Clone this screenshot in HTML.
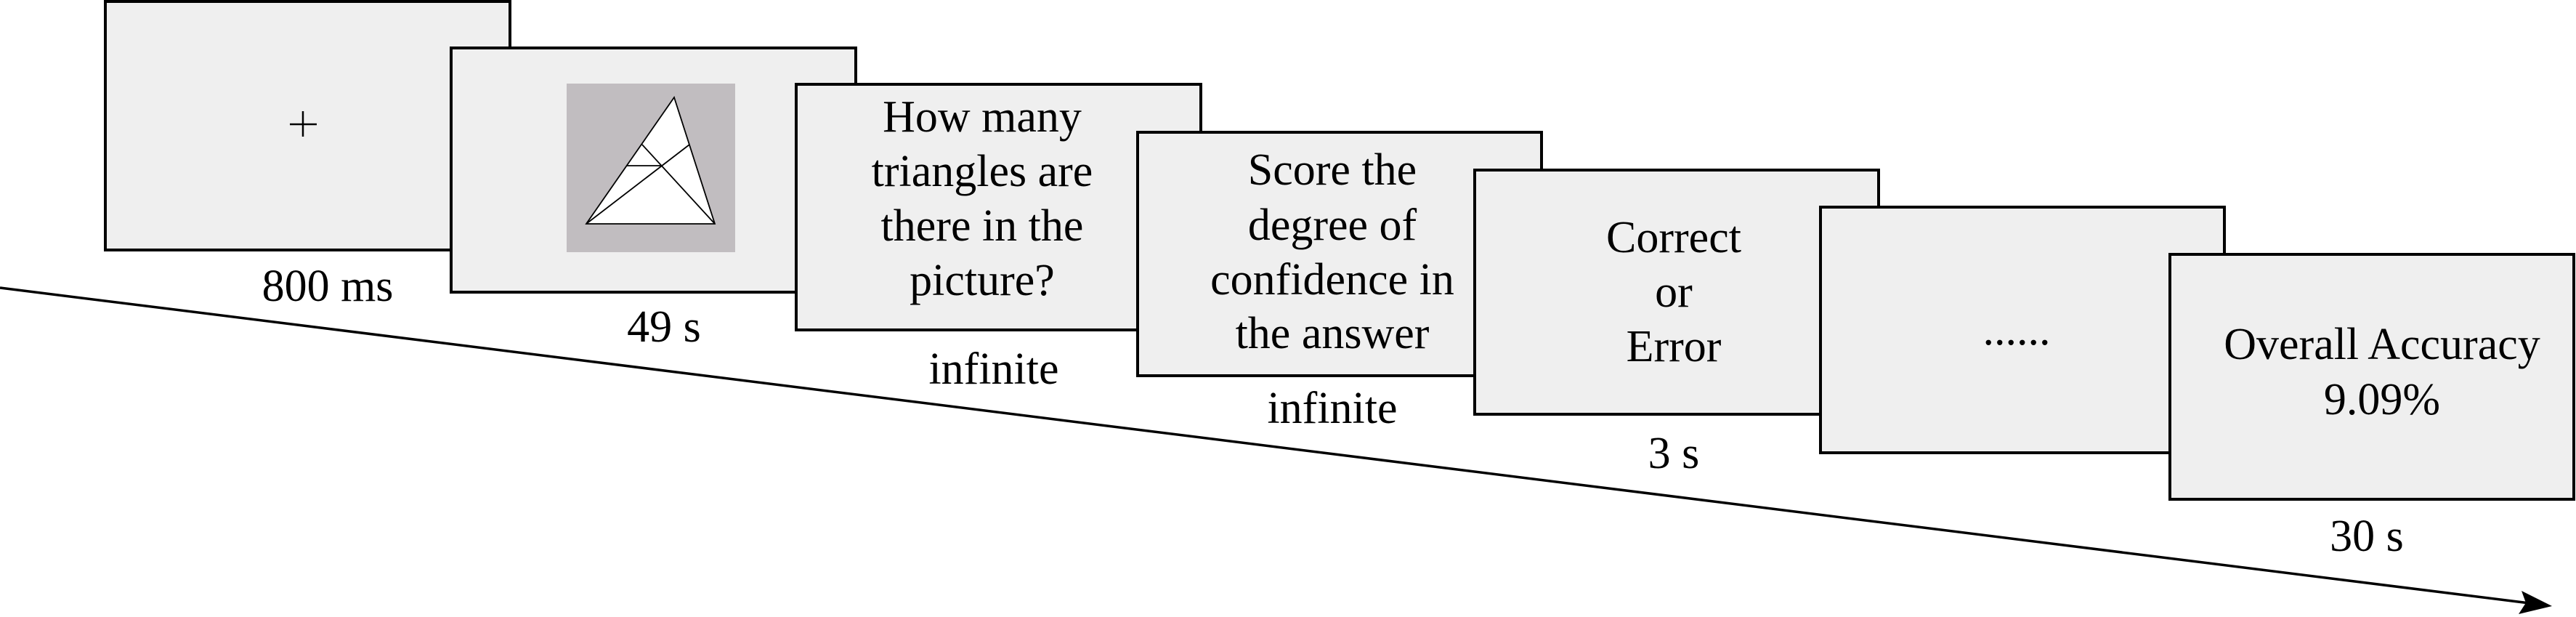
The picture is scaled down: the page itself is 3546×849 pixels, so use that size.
<!DOCTYPE html>
<html><head><meta charset="utf-8"><style>
html,body{margin:0;padding:0;background:#fff;}
svg{display:block;}
text{font-family:"Liberation Serif","Times New Roman",Times,serif;font-size:62px;fill:#000;text-anchor:middle;}
</style></head><body>
<svg width="3546" height="849" viewBox="0 0 3546 849" xmlns="http://www.w3.org/2000/svg">
<rect x="145" y="2" width="557" height="342" stroke="#000" stroke-width="4" fill="#efefef"/>
<g stroke="#000" stroke-width="2.5">
<line x1="399" y1="171" x2="436" y2="171"/>
<line x1="417" y1="153" x2="417" y2="188"/>
</g>
<text x="451" y="414">800 ms</text>
<rect x="621" y="66" width="557" height="336" stroke="#000" stroke-width="4" fill="#efefef"/>
<rect x="780" y="115" width="232" height="232" fill="#c1bdc0"/>
<g stroke="#000" stroke-width="1.8" fill="none">
<polygon points="928,134 807,308 984,308" fill="#fff"/>
<line x1="884" y1="199" x2="984" y2="308"/>
<line x1="949" y1="199" x2="807" y2="308"/>
<line x1="862" y1="228" x2="911" y2="228"/>
</g>
<text x="914" y="470">49 s</text>
<rect x="1096" y="116" width="557" height="338" stroke="#000" stroke-width="4" fill="#efefef"/>
<text x="1352" y="181">How many</text>
<text x="1352" y="256">triangles are</text>
<text x="1352" y="331">there in the</text>
<text x="1352" y="406">picture?</text>
<text x="1368" y="528">infinite</text>
<rect x="1566" y="182" width="556" height="335" stroke="#000" stroke-width="4" fill="#efefef"/>
<text x="1834" y="254">Score the</text>
<text x="1834" y="330">degree of</text>
<text x="1834" y="405">confidence in</text>
<text x="1834" y="479">the answer</text>
<text x="1834" y="582">infinite</text>
<rect x="2030" y="234" width="556" height="336" stroke="#000" stroke-width="4" fill="#efefef"/>
<text x="2304" y="347">Correct</text>
<text x="2304" y="422">or</text>
<text x="2304" y="497">Error</text>
<text x="2304" y="644">3 s</text>
<rect x="2506" y="285" width="556" height="338" stroke="#000" stroke-width="4" fill="#efefef"/>
<text x="2776" y="474">......</text>
<rect x="2987" y="350" width="556" height="337" stroke="#000" stroke-width="4" fill="#efefef"/>
<text x="3279" y="494">Overall Accuracy</text>
<text x="3279" y="570">9.09%</text>
<text x="3258" y="758">30 s</text>
<line x1="0" y1="396" x2="3482" y2="830" stroke="#000" stroke-width="3.5"/>
<polygon points="3513,834 3467,845 3477,829.5 3471,813" fill="#000"/>
</svg>
</body></html>
